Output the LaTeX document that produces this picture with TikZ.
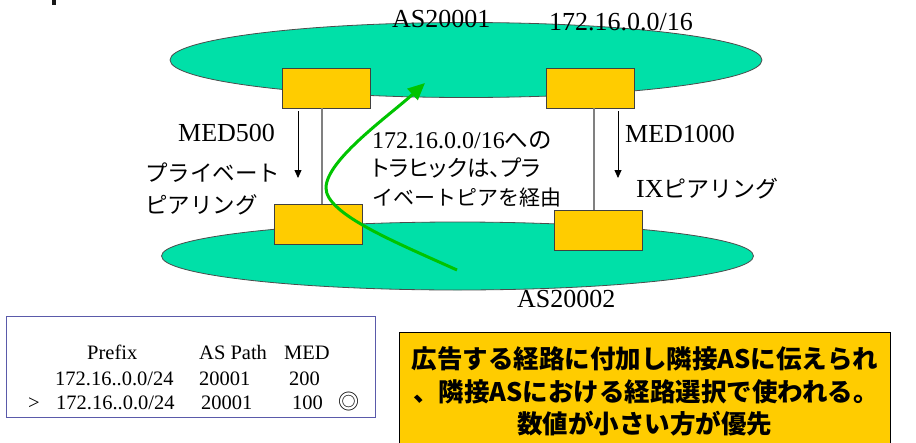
\documentclass[tikz,border=0pt]{standalone}
\usepackage{fontspec}
\setmainfont{Liberation Serif}
\newfontfamily\jp{Noto Sans CJK JP}
\newfontfamily\jpp[RawFeature=+palt]{Noto Sans CJK JP}
\usetikzlibrary{shapes.geometric,arrows.meta}
\definecolor{asgreen}{HTML}{00E0A8}
\definecolor{rtyellow}{HTML}{FFCC00}
\definecolor{trgreen}{HTML}{00C400}
\definecolor{tblblue}{HTML}{5A5AAA}
\tikzset{
  asnet/.style={ellipse, draw=black!70, line width=0.8pt, fill=asgreen, inner sep=0pt, minimum width=592pt},
  router/.style={rectangle, draw=black!75, line width=0.9pt, fill=rtyellow, inner sep=0pt, minimum width=88pt, minimum height=40pt},
  link/.style={draw=black!50, line width=1.1pt},
  medarrow/.style={draw=black, line width=0.8pt, -{Triangle[length=8pt,width=7pt]}},
  traffic/.style={draw=trgreen, line width=3pt, -{Triangle[length=17pt,width=15pt]}},
  lbl/.style={anchor=base west, inner sep=0pt, font=\fontsize{26}{30}\selectfont},
  jplbl/.style={anchor=base west, inner sep=0pt, font=\jp\fontsize{22.5}{26}\selectfont},
  midlbl/.style={anchor=base west, inner sep=0pt, font=\jp\fontsize{21}{26}\selectfont},
  tbl/.style={anchor=base west, inner sep=0pt, font=\fontsize{20.5}{24}\selectfont},
  notebox/.style={rectangle, draw=black, line width=1pt, fill=rtyellow, inner sep=0pt, anchor=north west},
  notetxt/.style={anchor=base, inner sep=0pt, font=\jp\bfseries\fontsize{25.5}{30}\selectfont},
}
\begin{document}
\begin{tikzpicture}[x=1pt,y=-1pt]
\useasboundingbox (0,0) rectangle (916,442);
\fill[black!90] (52,0) rectangle (56,5);
% AS networks
\node[asnet, minimum height=75pt] (e1) at (466,60) {};
\node[asnet, minimum height=68pt] (e2) at (457.5,256) {};
% routers
\node[router] (r1) at (326,88) {};
\node[router] (r2) at (590,88) {};
\node[router] (r3) at (318,224.5) {};
\node[router] (r4) at (598,230) {};
% links
\draw[link] ([xshift=-4pt]r1.south) -- ([xshift=4pt]r3.north);
\draw[link] ([xshift=4pt]r2.south) -- ([xshift=-4pt]r4.north);
% MED arrows
\coordinate (m1) at (298,178);
\coordinate (m2) at (618,178);
\draw[medarrow] ([xshift=-28pt,yshift=-3pt]r1.south) -- (m1);
\draw[medarrow] ([xshift=28pt,yshift=-3pt]r2.south) -- (m2);
% labels
\node[lbl] (as1) at (392,27) {AS20001};
\node[lbl] (pfx) at (549,30) {172.16.0.0/16};
\node[lbl] (as2) at (517,307) {AS20002};
\node[lbl] (med500) at (178,141) {MED500};
\node[lbl] (med1000) at (625,142) {MED1000};
\node[jplbl] (pv1) at (145,181) {プライベート};
\node[jplbl] (pv2) at (145,213) {ピアリング};
\node[lbl] (ix) at (636,197) {IX{\jp\fontsize{23}{26}\selectfont ピアリング}};
\node[midlbl] (t1) at (372,148) {{\rmfamily\fontsize{24}{26}\selectfont 172.16.0.0/16}{\fontsize{23.5}{26}\selectfont への}};
\node[midlbl, font=\jpp\fontsize{22.5}{26}\selectfont] (t2) at (372,176.5) {トラヒックは、プラ};
\node[midlbl] (t3) at (372,205) {イベートピアを経由};
% traffic curve
\coordinate (gs) at (457,270);
\coordinate (gm) at (326,188);
\coordinate (ge) at (425,83);
\draw[traffic] (gs) .. controls (395,242) and (326,214) .. (gm) .. controls (326,160) and (390,115) .. (ge);
% table
\node[rectangle, draw=tblblue, line width=1.4pt, inner sep=0pt, minimum width=369pt, minimum height=101pt, anchor=north west] (tab) at (6,316) {};
\node[tbl] (h1) at (87,359) {Prefix};
\node[tbl] (h2) at (199,359) {AS Path};
\node[tbl] (h3) at (284,359) {MED};
\node[tbl] (a1) at (55,385) {172.16..0.0/24};
\node[tbl] (a2) at (199,385) {20001};
\node[tbl] (a3) at (289,385) {200};
\node[tbl] (b0) at (28,409) {>};
\node[tbl] (b1) at (56,409) {172.16..0.0/24};
\node[tbl] (b2) at (201,409) {20001};
\node[tbl] (b3) at (292,409) {100};
\node[inner sep=0pt, font=\jp\fontsize{21}{24}\selectfont] (best) at (349,402) {◎};
% note
\node[notebox, minimum width=491pt, minimum height=120pt] (note) at (399,332) {};
\node[notetxt] (n1) at (645,368) {広告する経路に付加し隣接ASに伝えられ};
\node[notetxt] (n2) at (646,401) {、隣接ASにおける経路選択で使われる。};
\node[notetxt] (n3) at (644.5,433) {数値が小さい方が優先};
\end{tikzpicture}
\end{document}
